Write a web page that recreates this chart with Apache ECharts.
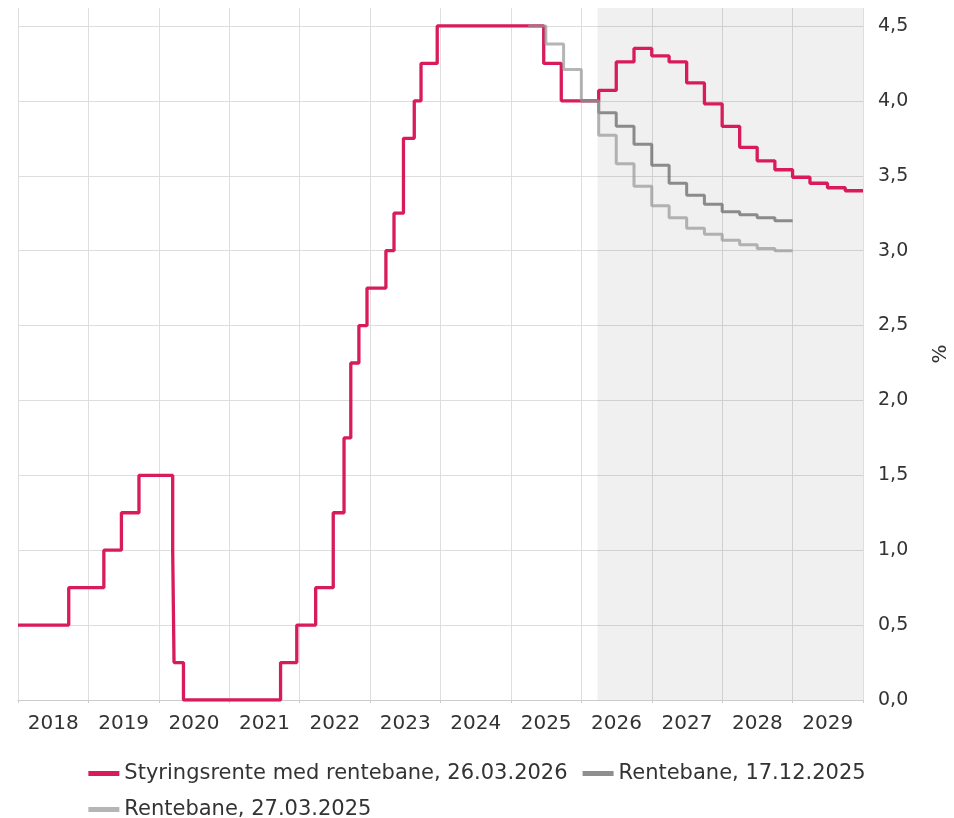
<!DOCTYPE html>
<html>
<head>
<meta charset="utf-8">
<script src="https://cdn.jsdelivr.net/npm/echarts@6/dist/echarts.min.js"></script>
<style>
html,body{margin:0;padding:0;background:#fff;}
#c{width:954px;height:818px;}
</style>
</head>
<body>
<div id="c"></div>
<script>
// ---- Data ----
const yearLabels = ['2018','2019','2020','2021','2022','2023','2024','2025','2026','2027','2028','2029'];
const yTicks = [0, 0.5, 1, 1.5, 2, 2.5, 3, 3.5, 4, 4.5];

// Historical policy rate: date of change, new rate
const policyDates = ['2018-01-01','2018-09-21','2019-03-22','2019-06-21','2019-09-20','2020-03-13','2020-03-20','2020-05-08',
  '2021-09-24','2021-12-17','2022-03-25','2022-06-24','2022-08-19','2022-09-23','2022-11-04','2022-12-16',
  '2023-03-24','2023-05-05','2023-06-23','2023-08-18','2023-09-22','2023-12-15','2025-06-20','2025-09-19'];
const policyRates = [0.5,0.75,1.0,1.25,1.5,1.0,0.25,0.0,
  0.25,0.5,0.75,1.25,1.75,2.25,2.5,2.75,
  3.0,3.25,3.75,4.0,4.25,4.5,4.25,4.0];

// Rentebane 26.03.2026 (quarterly)
const path2026Dates = ['2026-01-01','2026-04-01','2026-07-01','2026-10-01','2027-01-01','2027-04-01','2027-07-01','2027-10-01',
  '2028-01-01','2028-04-01','2028-07-01','2028-10-01','2029-01-01','2029-04-01','2029-07-01','2029-10-01'];
const path2026 = [4.00,4.07,4.26,4.35,4.30,4.26,4.12,3.98,3.83,3.69,3.60,3.54,3.49,3.45,3.42,3.40];
const path2026End = '2030-01-01';

// Rentebane 17.12.2025
const pathDec25Dates = ['2026-01-01','2026-04-01','2026-07-01','2026-10-01','2027-01-01','2027-04-01','2027-07-01','2027-10-01',
  '2028-01-01','2028-04-01','2028-07-01','2028-10-01'];
const pathDec25 = [4.00,3.92,3.83,3.71,3.57,3.45,3.37,3.31,3.26,3.24,3.22,3.20];
const pathDec25End = '2029-01-01';

// Rentebane 27.03.2025
const pathMar25Dates = ['2025-04-01','2025-07-01','2025-10-01','2026-01-01','2026-04-01','2026-07-01','2026-10-01','2027-01-01',
  '2027-04-01','2027-07-01','2027-10-01','2028-01-01','2028-04-01','2028-07-01','2028-10-01'];
const pathMar25 = [4.50,4.38,4.21,4.00,3.77,3.58,3.43,3.30,3.22,3.15,3.11,3.07,3.04,3.015,3.00];
const pathMar25End = '2029-01-01';

const forecastStart = '2026-03-26';
const seriesNames = ['Styringsrente med rentebane, 26.03.2026','Rentebane, 17.12.2025','Rentebane, 27.03.2025'];

// ---- Helpers ----
function toYear(s){
  const p = s.split('-').map(Number);
  const t = Date.UTC(p[0], p[1]-1, p[2]);
  const a = Date.UTC(p[0],0,1), b = Date.UTC(p[0]+1,0,1);
  return p[0] + (t-a)/(b-a);
}
function pairs(dates, vals, endDate){
  const out = dates.map((d,i)=>[toYear(d), vals[i]]);
  if (endDate) out.push([toYear(endDate), vals[vals.length-1]]);
  return out;
}
const redData = pairs(policyDates, policyRates).concat(pairs(path2026Dates, path2026, path2026End));
const dec25Data = pairs(pathDec25Dates, pathDec25, pathDec25End);
const mar25Data = pairs(pathMar25Dates, pathMar25, pathMar25End);

const txt = '#333333';
const gridColor = '#dedede';
const font = 'DejaVu Sans';

const yMin = 0, yMax = 4.62, yStep = 0.5;
const xMin = 2018, xMax = 2030;

const splitColorsY = yTicks.map(()=>gridColor).concat(['rgba(0,0,0,0)']);

const chart = echarts.init(document.getElementById('c'), null, {renderer:'canvas'});
chart.setOption({
  animation: false,
  backgroundColor: '#ffffff',
  textStyle: {fontFamily: font},
  grid: {left: 18, right: 91, top: 8, bottom: 118, containLabel: false, outerBoundsMode: 'none'},
  legend: {
    show: true,
    data: seriesNames,
    left: 'center',
    top: 758,
    width: 820,
    itemWidth: 31,
    itemHeight: 5,
    itemGap: 15,
    icon: 'rect',
    textStyle: {fontFamily: font, fontSize: 21, color: txt}
  },
  xAxis: [
    {
      type: 'value', min: xMin, max: xMax, interval: 1,
      axisLine: {show: true, lineStyle: {color: '#cccccc', width: 1}},
      axisTick: {show: true, length: 3, lineStyle: {color: '#cccccc'}},
      axisLabel: {show: false},
      splitLine: {show: true, lineStyle: {color: gridColor, width: 1}}
    },
    {
      type: 'category', data: yearLabels, boundaryGap: true, position: 'bottom',
      axisLine: {show: false}, axisTick: {show: false},
      splitLine: {show: false},
      axisLabel: {show: true, margin: 14, fontFamily: font, fontSize: 20, color: txt, interval: 0}
    }
  ],
  yAxis: {
    type: 'value', position: 'right', min: yMin, max: yMax, interval: yStep,
    name: '%', nameLocation: 'middle', nameGap: 68,
    nameTextStyle: {fontFamily: font, fontSize: 20, color: txt},
    axisLine: {show: false}, axisTick: {show: false},
    axisLabel: {
      show: true, margin: 15, fontFamily: font, fontSize: 19, color: txt,
      formatter: function(v){
        const k = Math.round(v/yStep);
        if (Math.abs(k*yStep - v) > 1e-6) return '';
        return v.toFixed(1).replace('.', ',');
      }
    },
    splitLine: {show: true, lineStyle: {color: splitColorsY, width: 1}}
  },
  series: [
    {
      name: seriesNames[0], type: 'line', step: 'end', data: redData,
      xAxisIndex: 0, yAxisIndex: 0,
      showSymbol: false, symbol: 'none',
      lineStyle: {color: '#d81b5a', width: 3.3},
      itemStyle: {color: '#d81b5a'},
      markArea: {
        silent: true,
        itemStyle: {color: 'rgba(0,0,0,0.06)'},
        data: [[{xAxis: toYear(forecastStart)}, {xAxis: xMax}]]
      },
      z: 3
    },
    {
      name: seriesNames[1], type: 'line', step: 'end', data: dec25Data,
      xAxisIndex: 0, yAxisIndex: 0,
      showSymbol: false, symbol: 'none',
      lineStyle: {color: 'rgba(95,95,95,0.7)', width: 3},
      itemStyle: {color: 'rgba(95,95,95,0.7)'},
      z: 4
    },
    {
      name: seriesNames[2], type: 'line', step: 'end', data: mar25Data,
      xAxisIndex: 0, yAxisIndex: 0,
      showSymbol: false, symbol: 'none',
      lineStyle: {color: 'rgba(150,150,150,0.7)', width: 3},
      itemStyle: {color: 'rgba(150,150,150,0.7)'},
      z: 5
    }
  ]
});
</script>
</body>
</html>
